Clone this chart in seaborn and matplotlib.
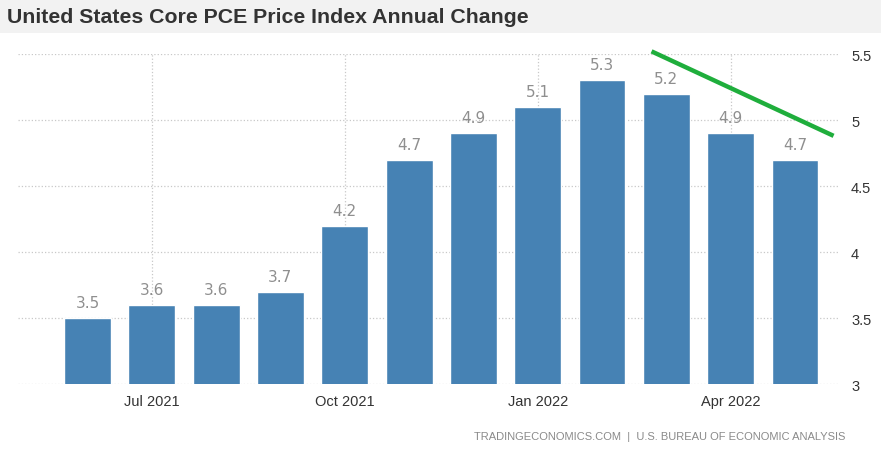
import matplotlib
matplotlib.use("Agg")
import matplotlib.pyplot as plt
import seaborn as sns
import pandas as pd

# Data
months = ["Jun 2021", "Jul 2021", "Aug 2021", "Sep 2021", "Oct 2021", "Nov 2021",
          "Dec 2021", "Jan 2022", "Feb 2022", "Mar 2022", "Apr 2022", "May 2022"]
values = [3.5, 3.6, 3.6, 3.7, 4.2, 4.7, 4.9, 5.1, 5.3, 5.2, 4.9, 4.7]
tick_labels = ["Jul 2021", "Oct 2021", "Jan 2022", "Apr 2022"]
y_ticks = [3, 3.5, 4, 4.5, 5, 5.5]
# hand-drawn green trend stroke (x in bar index units, y in value units)
trend_x = [8.77, 11.6]
trend_y = [5.52, 4.88]

df = pd.DataFrame({"month": months, "value": values})

sns.set_style("white")
plt.rcParams["font.family"] = ["Liberation Sans", "DejaVu Sans"]

fig = plt.figure(figsize=(8.81, 4.52), dpi=100)
fig.patch.set_facecolor("white")

# grey title band
fig.patches.append(plt.Rectangle((0, 1 - 34 / 452), 1, 34 / 452, transform=fig.transFigure,
                                 facecolor="#f2f2f2", edgecolor="none", zorder=0))
fig.text(7 / 881, 1 - 23 / 452, "United States Core PCE Price Index Annual Change",
         fontsize=15.3, color="#333333", fontweight="bold", ha="left", va="baseline")

ax = fig.add_axes([18 / 881, 1 - 385 / 452, (840 - 18) / 881, (385 - 55) / 452])
sns.barplot(data=df, x="month", y="value", color="#4682b4", saturation=1,
            width=0.73, ax=ax, zorder=3)

ax.set_xlim(-1.08, 11.7)
ax.set_ylim(3, 5.5)
ax.set_yticks(y_ticks)
ax.set_yticklabels(["3", "3.5", "4", "4.5", "5", "5.5"])
ax.yaxis.tick_right()
ax.set_xticks([months.index(t) for t in tick_labels])
ax.set_xticklabels(tick_labels)
ax.tick_params(axis="both", length=0, labelsize=10.5, colors="#333333")
ax.tick_params(axis="y", pad=8)
ax.tick_params(axis="x", pad=7)
ax.set_xlabel("")
ax.set_ylabel("")
for s in ax.spines.values():
    s.set_visible(False)
ax.grid(True, axis="both", linestyle=":", color="#c8c8c8", linewidth=0.9, zorder=0)
ax.set_axisbelow(True)

for i, v in enumerate(values):
    ax.text(i, v + 0.06, f"{v:.1f}", ha="center", va="bottom", fontsize=11,
            color="#8f8f8f", family="DejaVu Sans", zorder=4)

ax.plot(trend_x, trend_y, color="#1fae3c", linewidth=3.2, clip_on=False,
        solid_capstyle="butt", zorder=5)

fig.text(845 / 881, 1 - 437 / 452,
         "TRADINGECONOMICS.COM  |  U.S. BUREAU OF ECONOMIC ANALYSIS",
         fontsize=8, color="#8a8a8a", ha="right", va="center")

fig.savefig("out.png", dpi=100)
